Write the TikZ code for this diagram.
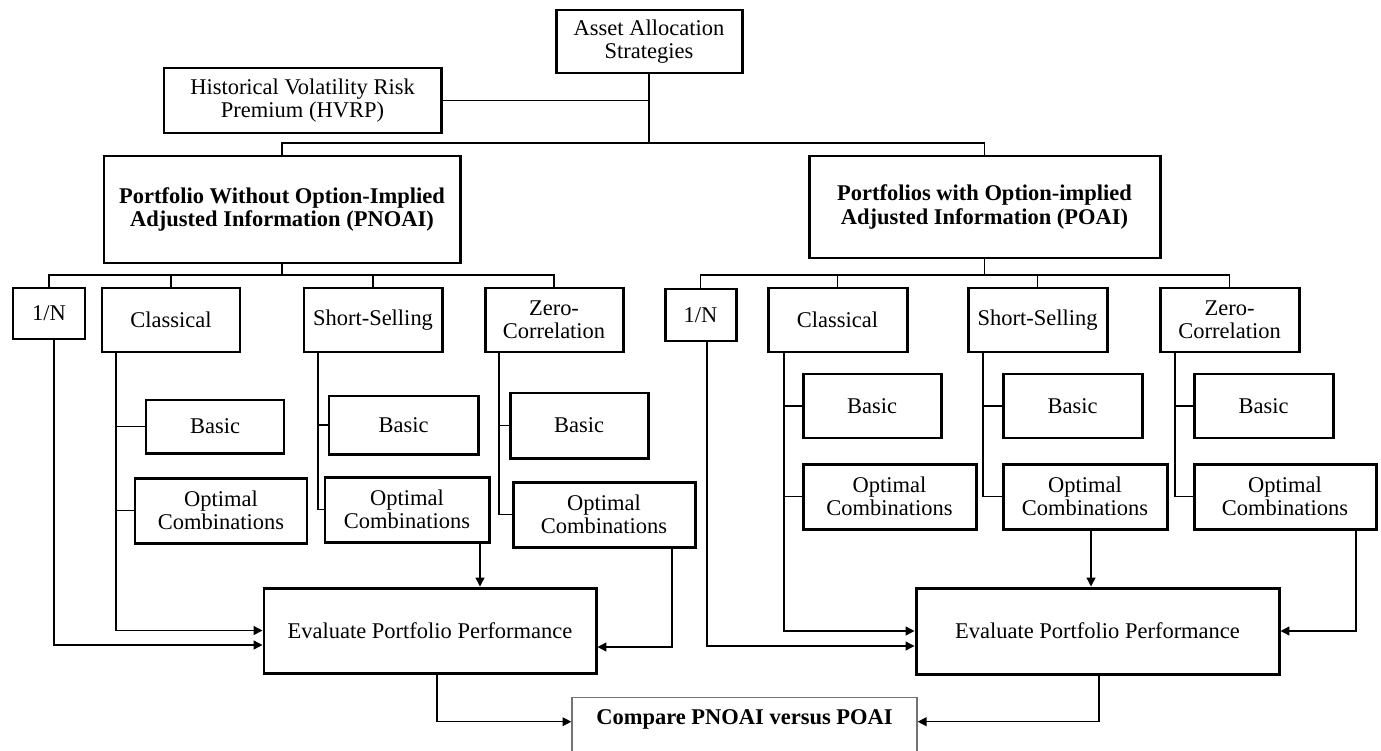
\documentclass[tikz,border=0pt]{standalone}
\usepackage{fontspec}
\setmainfont{Liberation Serif}
\usetikzlibrary{arrows.meta,calc}
\newcommand\mkbox[7]{\node[#1,minimum width={(#5-#3)*0.02cm},minimum height={(#6-#4)*0.02cm}] (#2) at ({(#3+#5)/2},{(#4+#6)/2}) {#7};}
\tikzset{
  bxs/.style={draw=black,line width=1.7pt,fill=white,inner sep=0pt,align=center,font=\fontsize{12.8pt}{13.2pt}\selectfont},
  bbold/.style={bxs,font=\fontsize{12.8pt}{13.2pt}\selectfont\bfseries},
  cmpbox/.style={draw=black!55,line width=0.8pt,fill=white,inner sep=0pt,align=center,font=\fontsize{12.8pt}{13.2pt}\selectfont\bfseries},
  cnx/.style={draw=black,line width=0.75pt},
  arr/.style={cnx,-{Triangle[length=5pt,width=5pt]}}
}
\begin{document}
\begin{tikzpicture}[x=0.02cm,y=-0.02cm]
\useasboundingbox (0,0) rectangle (1381,750);
\clip (0,0) rectangle (1381,750);
% top
\mkbox{bxs}{asset}{556}{10}{742}{73}{Asset Allocation\\Strategies}
\mkbox{bxs}{hvrp}{164}{68}{441}{133}{Historical Volatility Risk\\Premium (HVRP)}
\mkbox{bbold}{pnoai}{104}{156}{460}{263}{Portfolio Without Option-Implied\\Adjusted Information (PNOAI)}
\mkbox{bbold}{poai}{809}{156}{1160}{258}{Portfolios with Option-implied\\Adjusted Information (POAI)}
% left branch
\mkbox{bxs}{n1}{13}{288}{85}{339}{1/N}
\mkbox{bxs}{cl1}{102}{288}{240}{352}{Classical}
\mkbox{bxs}{ss1}{304}{288}{442}{352}{Short-Selling}
\mkbox{bxs}{zc1}{485}{288}{623}{352}{Zero-\\Correlation}
\mkbox{bxs}{bc1}{146}{400}{284}{453}{Basic}
\mkbox{bxs}{bs1}{329}{396}{478}{454}{Basic}
\mkbox{bxs}{bz1}{510}{393}{648}{458}{Basic}
\mkbox{bxs}{oc1}{135}{478}{307}{543}{Optimal\\Combinations}
\mkbox{bxs}{os1}{325}{477}{489}{542}{Optimal\\Combinations}
\mkbox{bxs}{oz1}{513}{482}{695}{547}{Optimal\\Combinations}
\mkbox{bxs}{ev1}{264}{588}{596}{673}{Evaluate Portfolio Performance}
% right branch
\mkbox{bxs}{n2}{665}{289}{736}{341}{1/N}
\mkbox{bxs}{cl2}{768}{288}{907}{352}{Classical}
\mkbox{bxs}{ss2}{968}{288}{1107}{352}{Short-Selling}
\mkbox{bxs}{zc2}{1160}{288}{1299}{352}{Zero-\\Correlation}
\mkbox{bxs}{bc2}{803}{374}{941}{438}{Basic}
\mkbox{bxs}{bs2}{1003}{374}{1142}{438}{Basic}
\mkbox{bxs}{bz2}{1194}{374}{1333}{438}{Basic}
\mkbox{bxs}{oc2}{803}{464}{976}{529}{Optimal\\Combinations}
\mkbox{bxs}{os2}{1003}{464}{1167}{529}{Optimal\\Combinations}
\mkbox{bxs}{oz2}{1194}{464}{1376}{529}{Optimal\\Combinations}
\mkbox{bxs}{ev2}{916}{588}{1279}{674}{Evaluate Portfolio Performance}
% compare
\node[cmpbox,anchor=north,minimum width={(917-572)*0.02cm},text height=0.54cm,text depth=0.78cm] (cmp) at (744.5,697) {Compare PNOAI versus POAI};
% top connectors
\coordinate (topbar) at (0,143);
\draw[cnx] (asset.south) -- (asset.south |- topbar);
\draw[cnx] (hvrp.east) -- (hvrp.east -| asset.south);
\draw[cnx] (pnoai.north) -- (pnoai.north |- topbar) -- (poai.north |- topbar) -- (poai.north);
% children bars
\coordinate (kbar) at (0,275);
\draw[cnx] (pnoai.south) -- (pnoai.south |- kbar);
\draw[cnx] (n1.north) -- (n1.north |- kbar) -- (zc1.north |- kbar) -- (zc1.north);
\draw[cnx] (cl1.north) -- (cl1.north |- kbar);
\draw[cnx] (ss1.north) -- (ss1.north |- kbar);
\draw[cnx] (poai.south) -- (poai.south |- kbar);
\draw[cnx] (n2.north) -- (n2.north |- kbar) -- (zc2.north |- kbar) -- (zc2.north);
\draw[cnx] (cl2.north) -- (cl2.north |- kbar);
\draw[cnx] (ss2.north) -- (ss2.north |- kbar);
% left trunks
\coordinate (n1t) at (54,339);
\coordinate (cl1t) at (116,352);
\coordinate (ss1t) at (318,352);
\coordinate (zc1t) at (499,352);
\coordinate (os1b) at (480,542);
\coordinate (oz1b) at (672,547);
\coordinate (ev1b) at (437,673);
\draw[arr] (n1t) |- ([yshift=-0.29cm]ev1.west);
\draw[cnx] (cl1t) |- (bc1.west);
\draw[cnx] (cl1t) |- (oc1.west);
\draw[arr] (cl1t) |- (ev1.west);
\draw[cnx] (ss1t) |- (bs1.west);
\draw[cnx] (ss1t) |- (os1.west);
\draw[cnx] (zc1t) |- (bz1.west);
\draw[cnx] (zc1t) |- (oz1.west);
\draw[arr] (os1b) -- (os1b |- ev1.north);
\draw[arr] (oz1b) |- ([yshift=-0.33cm]ev1.east);
\draw[arr] (ev1b) |- ([yshift=0.06cm]cmp.base west);
% right trunks
\coordinate (n2t) at (707,341);
\coordinate (cl2t) at (784,352);
\coordinate (ss2t) at (983,352);
\coordinate (zc2t) at (1175,352);
\coordinate (os2b) at (1091,529);
\coordinate (oz2b) at (1356,529);
\coordinate (ev2b) at (1099,674);
\draw[arr] (n2t) |- ([yshift=-0.3cm]ev2.west);
\draw[cnx] (cl2t) |- (bc2.west);
\draw[cnx] (cl2t) |- (oc2.west);
\draw[arr] (cl2t) |- (ev2.west);
\draw[cnx] (ss2t) |- (bs2.west);
\draw[cnx] (ss2t) |- (os2.west);
\draw[cnx] (zc2t) |- (bz2.west);
\draw[cnx] (zc2t) |- (oz2.west);
\draw[arr] (os2b) -- (os2b |- ev2.north);
\draw[arr] (oz2b) |- (ev2.east);
\draw[arr] (ev2b) |- ([yshift=0.06cm]cmp.base east);
\end{tikzpicture}
\end{document}
